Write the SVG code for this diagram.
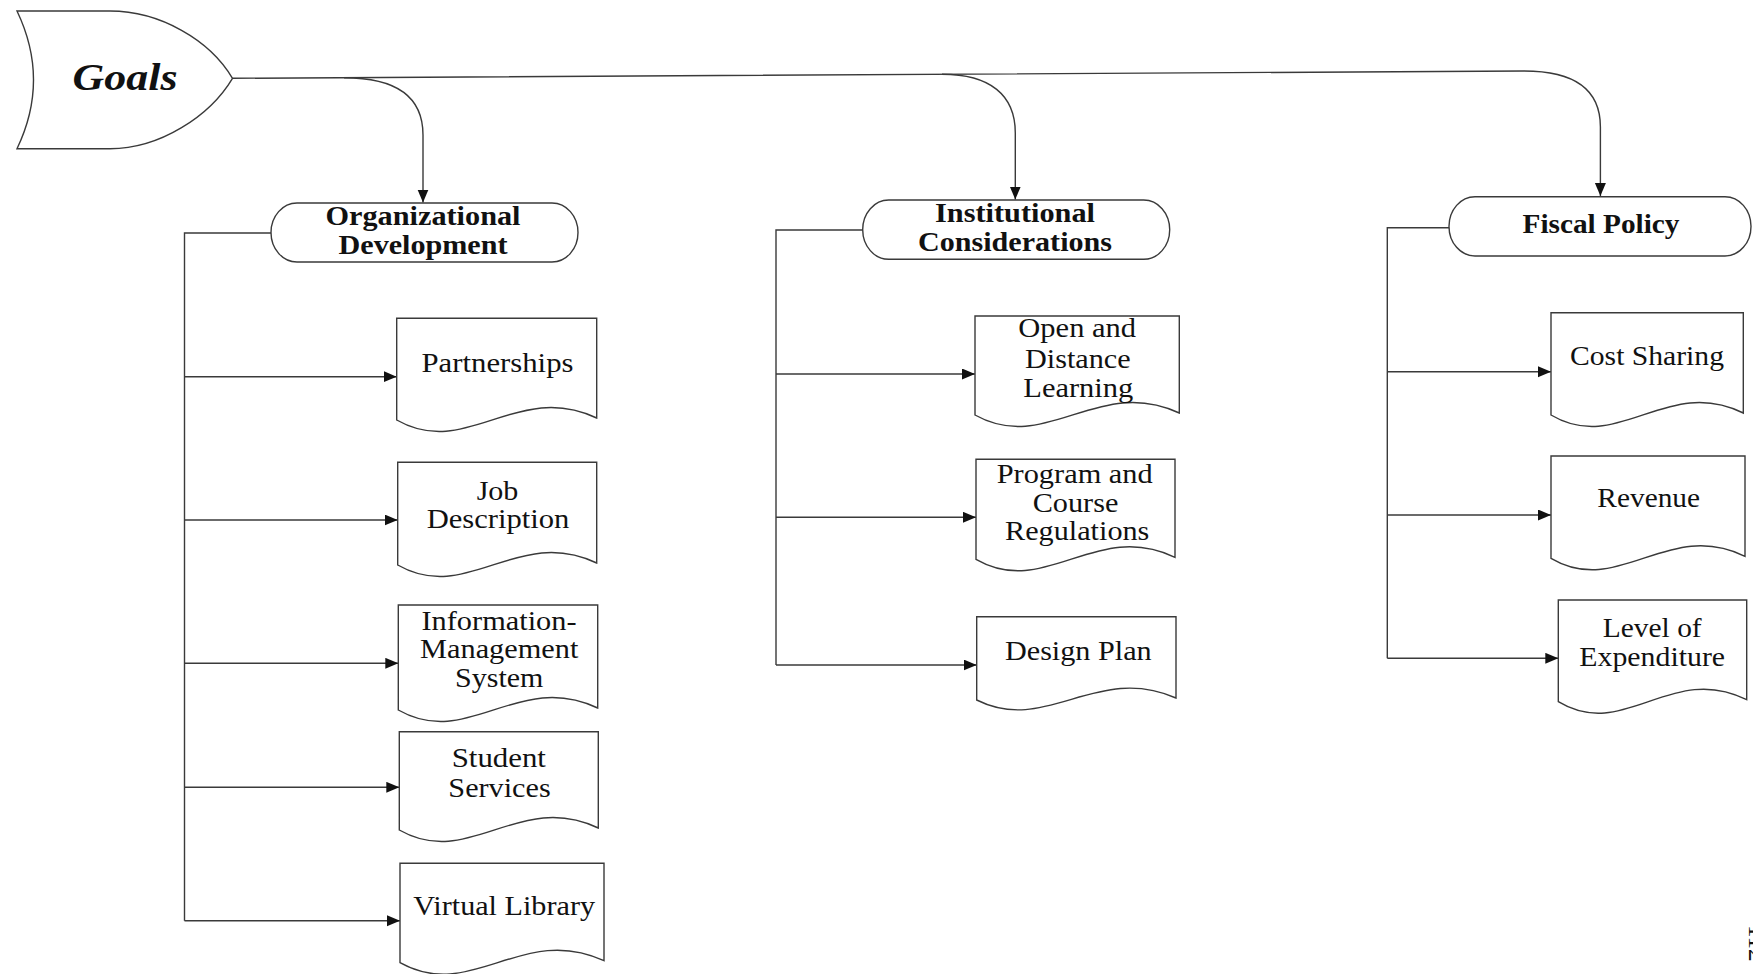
<svg xmlns="http://www.w3.org/2000/svg" width="1753" height="974" viewBox="0 0 1753 974">
<style>
.shape{fill:#fff;stroke:#3a3a3a;stroke-width:1.4}
.conn{fill:none;stroke:#3a3a3a;stroke-width:1.4}
.t{font-family:"Liberation Serif","Times New Roman",serif;font-size:28px;fill:#111;text-anchor:middle}
.b{font-family:"Liberation Serif","Times New Roman",serif;font-size:27px;font-weight:bold;fill:#111;text-anchor:middle}
.g{font-family:"Liberation Serif","Times New Roman",serif;font-size:38px;font-weight:bold;font-style:italic;fill:#111;text-anchor:middle}
</style>
<defs>
<marker id="ah" markerUnits="userSpaceOnUse" markerWidth="14" markerHeight="12" refX="13" refY="5.5" orient="auto">
<path d="M0,0 L13,5.5 L0,11 Z" fill="#111"/>
</marker>
</defs>
<rect width="1753" height="974" fill="#fff"/>

<g id="connectors">
<path class="conn" d="M232.5 78.3 L1524 71 C1575 71 1600.4 90 1600.4 127 L1600.4 196" marker-end="url(#ah)"/>
<path class="conn" d="M344 77.7 C395 77.7 423 95 423 135 L423 202.5" marker-end="url(#ah)"/>
<path class="conn" d="M942 74.3 C990 74.3 1015.3 95 1015.3 133 L1015.3 199.5" marker-end="url(#ah)"/>
<path class="conn" d="M271 233 H184.5 V920.7"/>
<path class="conn" d="M184.5 376.7 H396.7" marker-end="url(#ah)"/>
<path class="conn" d="M184.5 520 H397.7" marker-end="url(#ah)"/>
<path class="conn" d="M184.5 663.3 H398.3" marker-end="url(#ah)"/>
<path class="conn" d="M184.5 787.3 H399.3" marker-end="url(#ah)"/>
<path class="conn" d="M184.5 920.7 H400" marker-end="url(#ah)"/>
<path class="conn" d="M862.7 230 H776 V665"/>
<path class="conn" d="M776 374 H975" marker-end="url(#ah)"/>
<path class="conn" d="M776 517.3 H976" marker-end="url(#ah)"/>
<path class="conn" d="M776 665 H976.7" marker-end="url(#ah)"/>
<path class="conn" d="M1449 227.7 H1387.3 V658.3"/>
<path class="conn" d="M1387.3 371.7 H1551" marker-end="url(#ah)"/>
<path class="conn" d="M1387.3 515 H1551" marker-end="url(#ah)"/>
<path class="conn" d="M1387.3 658.3 H1558.3" marker-end="url(#ah)"/>
</g>

<g id="goals">
<path class="shape" d="M17 11 L110 11 C160 11 210 40 232.5 78.3 C210 116 160 148.7 110 148.7 L17 148.7 Q50 80 17 11 Z"/>
<text class="g" x="125" y="90" textLength="105" lengthAdjust="spacingAndGlyphs">Goals</text>
</g>

<g id="org-dev">
<rect class="shape" x="271" y="203" width="307" height="59" rx="26" ry="29.5"/>
<text class="b" x="423" y="225" textLength="195" lengthAdjust="spacingAndGlyphs">Organizational</text>
<text class="b" x="423" y="254" textLength="169" lengthAdjust="spacingAndGlyphs">Development</text>
</g>

<g id="inst-cons">
<rect class="shape" x="862.7" y="200" width="307" height="59.3" rx="26" ry="29.6"/>
<text class="b" x="1015" y="222" textLength="160" lengthAdjust="spacingAndGlyphs">Institutional</text>
<text class="b" x="1015" y="251" textLength="194" lengthAdjust="spacingAndGlyphs">Considerations</text>
</g>

<g id="fiscal-policy">
<rect class="shape" x="1449" y="196.7" width="302" height="59.3" rx="26" ry="29.6"/>
<text class="b" x="1601" y="233" textLength="157" lengthAdjust="spacingAndGlyphs">Fiscal Policy</text>
</g>

<g id="partnerships">
<path class="shape" d="M396.7 318.3 H596.7 V418 C516.7 380 466.7 460 396.7 420 Z"/>
<text class="t" x="497.5" y="371.7" textLength="152" lengthAdjust="spacingAndGlyphs">Partnerships</text>
</g>

<g id="job-description">
<path class="shape" d="M397.7 462.3 H596.7 V563 C517.3 525 467.4 605 397.7 565 Z"/>
<text class="t" x="497.5" y="500" textLength="41.7" lengthAdjust="spacingAndGlyphs">Job</text>
<text class="t" x="498" y="528.3" textLength="142.7" lengthAdjust="spacingAndGlyphs">Description</text>
</g>

<g id="information-management-system">
<path class="shape" d="M398.3 605 H597.7 V708 C517.9 670 468.1 750 398.3 710 Z"/>
<text class="t" x="499" y="630" textLength="155" lengthAdjust="spacingAndGlyphs">Information-</text>
<text class="t" x="499.2" y="658.3" textLength="158.3" lengthAdjust="spacingAndGlyphs">Management</text>
<text class="t" x="499.2" y="686.7" textLength="88.3" lengthAdjust="spacingAndGlyphs">System</text>
</g>

<g id="student-services">
<path class="shape" d="M399.3 731.7 H598.3 V828 C518.9 790 469 870 399.3 830 Z"/>
<text class="t" x="498.8" y="767.3" textLength="94.3" lengthAdjust="spacingAndGlyphs">Student</text>
<text class="t" x="499.5" y="796.7" textLength="102.3" lengthAdjust="spacingAndGlyphs">Services</text>
</g>

<g id="virtual-library">
<path class="shape" d="M400 863.3 H604 V960.7 C522.4 922.7 471.4 1002.7 400 962.7 Z"/>
<text class="t" x="504.2" y="915" textLength="181.7" lengthAdjust="spacingAndGlyphs">Virtual Library</text>
</g>

<g id="open-distance-learning">
<path class="shape" d="M975 316 H1179.3 V413 C1097.6 375 1046.5 455 975 415 Z"/>
<text class="t" x="1077.2" y="337.3" textLength="117.7" lengthAdjust="spacingAndGlyphs">Open and</text>
<text class="t" x="1077.8" y="368.3" textLength="105.7" lengthAdjust="spacingAndGlyphs">Distance</text>
<text class="t" x="1078.3" y="396.7" textLength="110" lengthAdjust="spacingAndGlyphs">Learning</text>
</g>

<g id="program-course-regulations">
<path class="shape" d="M976 459.3 H1175 V557.3 C1095.4 519.3 1045.7 599.3 976 559.3 Z"/>
<text class="t" x="1074.7" y="482.7" textLength="156" lengthAdjust="spacingAndGlyphs">Program and</text>
<text class="t" x="1075.5" y="511.7" textLength="85.7" lengthAdjust="spacingAndGlyphs">Course</text>
<text class="t" x="1077.2" y="540" textLength="144.3" lengthAdjust="spacingAndGlyphs">Regulations</text>
</g>

<g id="design-plan">
<path class="shape" d="M976.7 616.7 H1176 V698 C1096.3 663 1046.5 735 976.7 700 Z"/>
<text class="t" x="1078.3" y="660" textLength="146.7" lengthAdjust="spacingAndGlyphs">Design Plan</text>
</g>

<g id="cost-sharing">
<path class="shape" d="M1551 312.7 H1743.3 V413 C1666.4 375 1618.3 455 1551 415 Z"/>
<text class="t" x="1647" y="365" textLength="154" lengthAdjust="spacingAndGlyphs">Cost Sharing</text>
</g>

<g id="revenue">
<path class="shape" d="M1551 456 H1745 V556.3 C1667.4 518.3 1618.9 598.3 1551 558.3 Z"/>
<text class="t" x="1648.7" y="507.3" textLength="102.7" lengthAdjust="spacingAndGlyphs">Revenue</text>
</g>

<g id="level-of-expenditure">
<path class="shape" d="M1558.3 600 H1746.7 V699.7 C1671.3 661.7 1624.2 741.7 1558.3 701.7 Z"/>
<text class="t" x="1652.2" y="637.3" textLength="99" lengthAdjust="spacingAndGlyphs">Level of</text>
<text class="t" x="1652.2" y="666" textLength="145.7" lengthAdjust="spacingAndGlyphs">Expenditure</text>
</g>

<text x="0" y="0" transform="translate(1749 925) rotate(90)" style="font-family:'Liberation Serif',serif;font-size:25px;fill:#111">112</text>
</svg>
